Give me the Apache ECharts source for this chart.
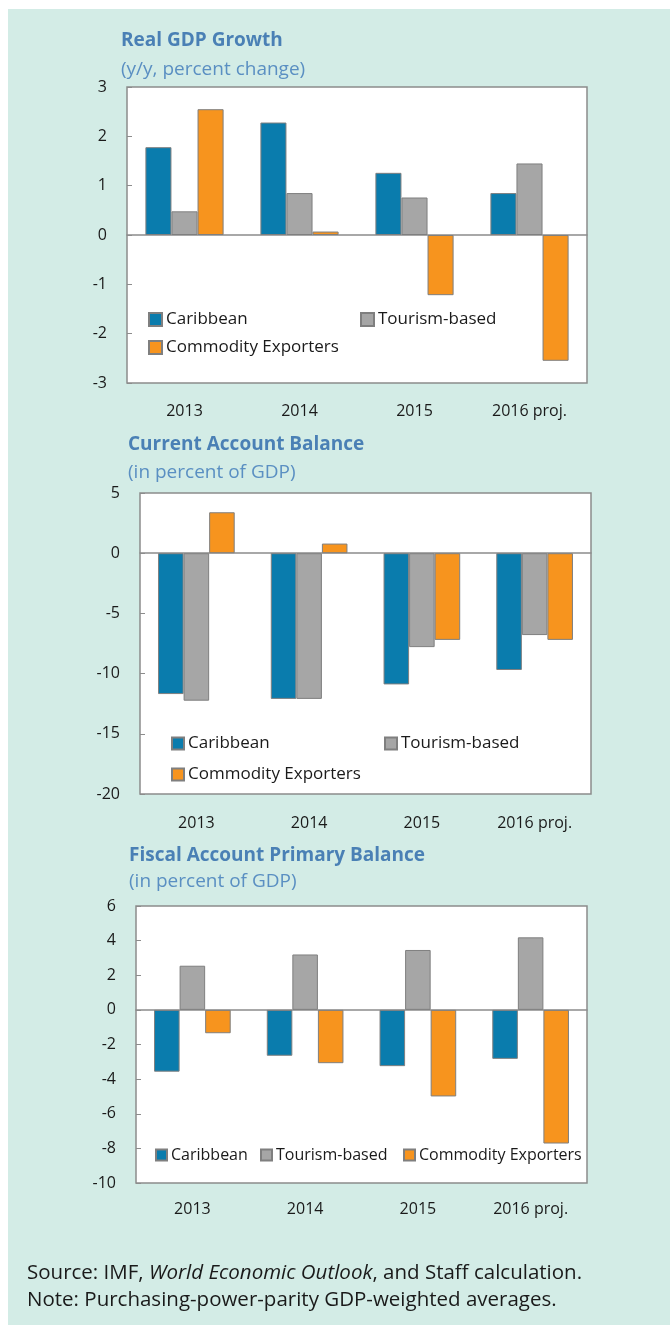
<!DOCTYPE html>
<html>
<head>
<meta charset="utf-8">
<title>Caribbean indicators</title>
<script src="https://cdn.jsdelivr.net/npm/echarts@6/dist/echarts.min.js"></script>
<style>
  html, body { margin: 0; padding: 0; background: #ffffff; }
  #chart { width: 670px; height: 1325px; }
</style>
</head>
<body>
<div id="chart"></div>
<script>
// categories
var years = ['2013', '2014', '2015', '2016 proj.'];
var seriesNames = ['Caribbean', 'Tourism-based', 'Commodity Exporters'];

// Real GDP growth (y/y, percent change)
var gdpCaribbean = [1.78, 2.28, 1.26, 0.85];
var gdpTourism = [0.48, 0.85, 0.76, 1.45];
var gdpCommodity = [2.55, 0.07, -1.22, -2.55];

// Current account balance (percent of GDP)
var cabCaribbean = [-11.7, -12.1, -10.9, -9.7];
var cabTourism = [-12.25, -12.1, -7.8, -6.8];
var cabCommodity = [3.4, 0.8, -7.2, -7.2];

// Fiscal primary balance (percent of GDP)
var fisCaribbean = [-3.57, -2.65, -3.25, -2.83];
var fisTourism = [2.55, 3.2, 3.46, 4.19];
var fisCommodity = [-1.35, -3.08, -5.0, -7.72];

// y axis ranges: min, max, interval
var gdpTicks = [-3, 3, 1];
var cabTicks = [-20, 5, 5];
var fisTicks = [-10, 6, 2];

var colors = ['#0a7cad', '#a6a6a6', '#f7941e'];
var font = "'Open Sans', sans-serif";
var titleBlue = '#4a80b5';
var frameGrey = '#8c8c8c';

var panels = [
  { title: 'Real GDP Growth', sub: '(y/y, percent change)', titleX: 121, titleY: 41, subY: 70,
    grid: { left: 127, top: 87, width: 460, height: 296 }, ticks: gdpTicks, labelMargin: 20,
    data: [gdpCaribbean, gdpTourism, gdpCommodity] },
  { title: 'Current Account Balance', sub: '(in percent of GDP)', titleX: 128, titleY: 445, subY: 473,
    grid: { left: 140, top: 493, width: 451, height: 301 }, ticks: cabTicks, labelMargin: 21,
    data: [cabCaribbean, cabTourism, cabCommodity] },
  { title: 'Fiscal Account Primary Balance', sub: '(in percent of GDP)', titleX: 129, titleY: 856, subY: 882,
    grid: { left: 136, top: 906, width: 451, height: 277 }, ticks: fisTicks, labelMargin: 18,
    data: [fisCaribbean, fisTourism, fisCommodity] }
];

// legend placement per panel: [seriesIndex, left, top, icon size]
var legendSpots = [
  [[0, 148, 311, 13], [1, 360, 311, 13], [2, 148, 339, 13]],
  [[0, 171, 735, 12], [1, 384, 735, 12], [2, 171, 766, 12]],
  [[0, 155, 1147, 11], [1, 260, 1147, 11], [2, 403, 1147, 11]]
];
var legendFont = [17, 17, 16];

var grids = [], xAxes = [], yAxes = [], series = [], legends = [];
var graphics = [
  { type: 'rect', shape: { x: 8, y: 9, width: 662, height: 1316 }, style: { fill: '#d3ece6' }, z: -10 }
];

panels.forEach(function (p, i) {
  grids.push({
    left: p.grid.left, top: p.grid.top, width: p.grid.width, height: p.grid.height,
    show: true, backgroundColor: '#ffffff', borderColor: frameGrey, borderWidth: 1.5
  });
  // axis at zero: line + boundary ticks, no labels
  xAxes.push({
    gridIndex: i, type: 'category', data: years,
    axisLine: { onZero: true, lineStyle: { color: frameGrey, width: 1.5 } },
    axisTick: { inside: true, length: 6, lineStyle: { color: frameGrey, width: 1.5 } },
    axisLabel: { show: false }
  });
  // labels along the bottom
  xAxes.push({
    gridIndex: i, type: 'category', data: years, position: 'bottom',
    axisLine: { show: false, onZero: false }, axisTick: { show: false },
    axisLabel: { margin: p.labelMargin, color: '#1a1a1a', fontSize: 16, fontFamily: font }
  });
  yAxes.push({
    gridIndex: i, type: 'value', min: p.ticks[0], max: p.ticks[1], interval: p.ticks[2],
    axisLine: { show: false },
    axisTick: { show: true, inside: true, length: 5, lineStyle: { color: frameGrey } },
    splitLine: { show: false },
    axisLabel: { margin: 20, color: '#1a1a1a', fontSize: 16, fontFamily: font }
  });
  p.data.forEach(function (vals, k) {
    series.push({
      name: seriesNames[k], type: 'bar', xAxisIndex: i * 2, yAxisIndex: i, data: vals,
      barGap: '0%', barCategoryGap: '32%',
      itemStyle: { color: colors[k], borderColor: '#7f7f7f', borderWidth: 1 },
      emphasis: { disabled: true }
    });
  });
  legendSpots[i].forEach(function (s) {
    legends.push({
      data: [seriesNames[s[0]]], left: s[1], top: s[2], padding: 0,
      icon: 'rect', itemWidth: s[3], itemHeight: s[3], itemGap: 0, selectedMode: false,
      textStyle: { color: '#1a1a1a', fontSize: legendFont[i], fontFamily: font, padding: [0, 0, 0, -1] }
    });
  });
  graphics.push({
    type: 'text', x: p.titleX, y: p.titleY,
    style: { text: p.title, fill: titleBlue, font: 'bold 19px ' + font, verticalAlign: 'middle' }
  });
  graphics.push({
    type: 'text', x: p.titleX, y: p.subY,
    style: { text: p.sub, fill: '#5a8fc2', font: '19px ' + font, verticalAlign: 'middle' }
  });
});

// source and note lines
graphics.push({
  type: 'text', x: 27, y: 1273,
  style: {
    text: 'Source: IMF, {i|World Economic Outlook}, and Staff calculation.',
    fill: '#1a1a1a', font: '20.5px ' + font, verticalAlign: 'middle',
    rich: { i: { fontStyle: 'italic', fontSize: 20.5, fontFamily: font, fill: '#1a1a1a' } }
  }
});
graphics.push({
  type: 'text', x: 27, y: 1300,
  style: { text: 'Note: Purchasing-power-parity GDP-weighted averages.', fill: '#1a1a1a', font: '20.5px ' + font, verticalAlign: 'middle' }
});

var myChart = echarts.init(document.getElementById('chart'), null, { renderer: 'canvas' });
myChart.setOption({
  animation: false,
  grid: grids,
  xAxis: xAxes,
  yAxis: yAxes,
  legend: legends,
  graphic: graphics,
  series: series
});
</script>
</body>
</html>
